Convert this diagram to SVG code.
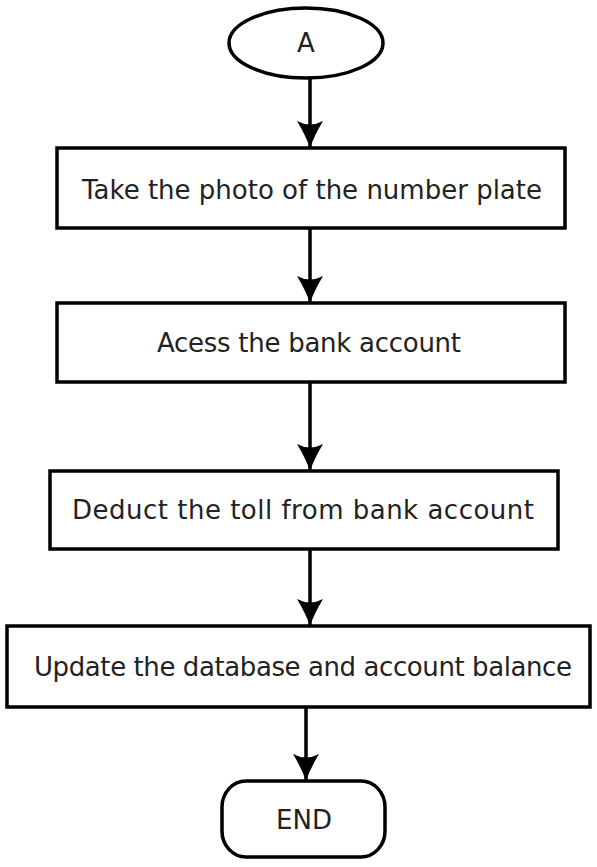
<svg xmlns="http://www.w3.org/2000/svg" width="597" height="867" viewBox="0 0 597 867">
<style>
.shape{fill:#fff;stroke:#000;stroke-width:3.5}
.lbl{font-family:"DejaVu Sans",Verdana,sans-serif;font-size:26px;fill:#222;text-anchor:middle}
.conn{stroke:#000;stroke-width:3.5;fill:none}
</style>
<defs>
<marker id="ah" markerUnits="userSpaceOnUse" viewBox="-28 -14 29 28" markerWidth="29" markerHeight="28" refX="0" refY="0" orient="auto">
<path d="M0,0 Q-12,-4 -27,-13 Q-20,0 -27,13 Q-12,4 0,0 Z" fill="#000"/>
</marker>
</defs>
<rect width="597" height="867" fill="#fff"/>
<g id="connectors">
<line class="conn" x1="310" y1="78" x2="310" y2="148" marker-end="url(#ah)"/>
<line class="conn" x1="310" y1="228" x2="310" y2="303" marker-end="url(#ah)"/>
<line class="conn" x1="310" y1="382" x2="310" y2="471" marker-end="url(#ah)"/>
<line class="conn" x1="310" y1="549" x2="310" y2="626" marker-end="url(#ah)"/>
<line class="conn" x1="306" y1="707" x2="306" y2="781" marker-end="url(#ah)"/>
</g>
<g id="start">
<ellipse class="shape" cx="306" cy="43" rx="77" ry="35"/>
<text class="lbl" x="306" y="52">A</text>
</g>
<g id="step1">
<rect class="shape" x="57" y="148" width="508" height="80"/>
<text class="lbl" x="312" y="199" textLength="460" lengthAdjust="spacing">Take the photo of the number plate</text>
</g>
<g id="step2">
<rect class="shape" x="57" y="303" width="508" height="79"/>
<text class="lbl" x="309" y="352" textLength="304" lengthAdjust="spacing">Acess the bank account</text>
</g>
<g id="step3">
<rect class="shape" x="50" y="471" width="508" height="78"/>
<text class="lbl" x="303" y="519" textLength="462" lengthAdjust="spacing">Deduct the toll from bank account</text>
</g>
<g id="step4">
<rect class="shape" x="7" y="626" width="583" height="81"/>
<text class="lbl" x="303" y="676" textLength="538" lengthAdjust="spacing">Update the database and account balance</text>
</g>
<g id="end">
<rect class="shape" x="222" y="781" width="163" height="76" rx="24" ry="26"/>
<text class="lbl" x="304" y="829">END</text>
</g>
</svg>
